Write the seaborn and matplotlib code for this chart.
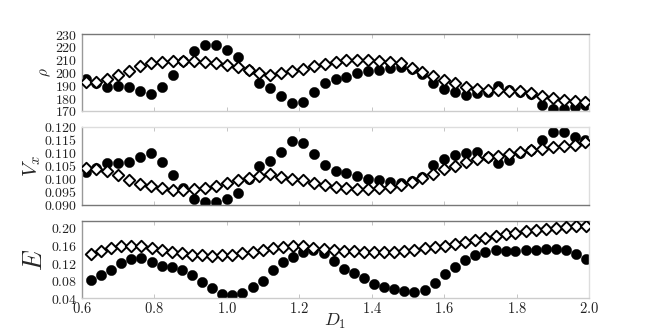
import matplotlib
matplotlib.use("Agg")
import matplotlib.pyplot as plt
import seaborn as sns
from matplotlib.ticker import FuncFormatter, FixedLocator

sns.set_style("white")
plt.rcParams["mathtext.fontset"] = "cm"
plt.rcParams["font.family"] = ["DejaVu Serif"]

# ---------------- data ----------------
D1_top = [0.61, 0.64, 0.67, 0.70, 0.73, 0.76, 0.79, 0.82, 0.85, 0.88,
          0.91, 0.94, 0.97, 1.00, 1.03, 1.06, 1.09, 1.12, 1.15, 1.18,
          1.21, 1.24, 1.27, 1.30, 1.33, 1.36, 1.39, 1.42, 1.45, 1.48,
          1.51, 1.54, 1.57, 1.60, 1.63, 1.66, 1.69, 1.72, 1.75, 1.78,
          1.81, 1.84, 1.87, 1.90, 1.93, 1.96, 1.99]

rho_circle = [195, 192, 189, 189.6, 188.7, 185.7, 183, 188.4, 198.1, 209,
              217, 221.4, 221.4, 217.5, 212, 202, 191.6, 188.3, 182, 176,
              177, 184.8, 192, 195, 196.4, 199.4, 201, 202.3, 203.3, 204,
              203, 199, 191.6, 187.3, 184.5, 182.8, 183.7, 185, 189.6, 186.4,
              185, 183, 174.7, 171.3, 171.3, 173.4, 175]
rho_diamond = [192.8, 192.8, 194.7, 198.1, 201.4, 205.1, 207.2, 208.4, 209.0, 209.0,
               209.0, 208.4, 207.2, 205.9, 204.0, 202.0, 199.9, 198.3, 199.4, 201.0,
               203.0, 205.0, 207.0, 208.2, 209.5, 209.7, 209.7, 209.2, 208.4, 207.2,
               203.7, 200.6, 196.9, 194.2, 191.6, 189.0, 187.0, 186.0, 186.2, 185.8,
               185.2, 183.8, 182.0, 180.5, 178.8, 177.8, 177.2]

vx_circle = [0.1025, 0.1040, 0.1060, 0.1060, 0.1064, 0.1085, 0.1098, 0.1065, 0.1015, 0.0962,
             0.0922, 0.0910, 0.0910, 0.0922, 0.0946, 0.1000, 0.1048, 0.1070, 0.1102, 0.1145,
             0.1139, 0.1094, 0.1051, 0.1031, 0.1021, 0.1009, 0.1000, 0.0995, 0.0989, 0.0982,
             0.0990, 0.1008, 0.1053, 0.1076, 0.1092, 0.1100, 0.1102, 0.1085, 0.1061, 0.1072,
             0.1100, 0.1112, 0.1149, 0.1182, 0.1182, 0.1160, 0.1148]
vx_diamond = [0.1043, 0.1039, 0.1029, 0.1013, 0.0996, 0.0979, 0.0972, 0.0963, 0.0958, 0.0957,
              0.0961, 0.0965, 0.0972, 0.0983, 0.0993, 0.1003, 0.1012, 0.1017, 0.1008, 0.0997,
              0.0993, 0.0984, 0.0975, 0.0967, 0.0962, 0.0960, 0.0961, 0.0963, 0.0968, 0.0976,
              0.0988, 0.1003, 0.1020, 0.1036, 0.1050, 0.1063, 0.1076, 0.1084, 0.1089, 0.1097,
              0.1104, 0.1110, 0.1116, 0.1121, 0.1126, 0.1131, 0.1143]

D1_bottom = [0.624, 0.652, 0.680, 0.708, 0.736, 0.764, 0.792, 0.820, 0.848, 0.875,
             0.903, 0.931, 0.959, 0.987, 1.015, 1.043, 1.071, 1.099, 1.127, 1.155,
             1.183, 1.211, 1.239, 1.267, 1.295, 1.323, 1.350, 1.378, 1.406, 1.434,
             1.462, 1.490, 1.518, 1.546, 1.574, 1.602, 1.630, 1.658, 1.686, 1.714,
             1.742, 1.770, 1.797, 1.825, 1.853, 1.881, 1.909, 1.937, 1.965, 1.993]

E_circle = [0.081, 0.092, 0.105, 0.119, 0.130, 0.132, 0.123, 0.114, 0.110, 0.105,
            0.092, 0.078, 0.063, 0.049, 0.047, 0.053, 0.066, 0.080, 0.105, 0.122,
            0.134, 0.145, 0.150, 0.142, 0.124, 0.107, 0.097, 0.085, 0.072, 0.065,
            0.060, 0.056, 0.054, 0.059, 0.075, 0.094, 0.111, 0.126, 0.138, 0.146,
            0.150, 0.148, 0.148, 0.150, 0.150, 0.151, 0.151, 0.149, 0.141, 0.130]
E_diamond = [0.140, 0.147, 0.153, 0.158, 0.159, 0.158, 0.154, 0.149, 0.145, 0.142,
             0.139, 0.138, 0.137, 0.138, 0.139, 0.143, 0.145, 0.150, 0.154, 0.156,
             0.159, 0.158, 0.154, 0.151, 0.150, 0.148, 0.147, 0.146, 0.146, 0.146,
             0.146, 0.148, 0.150, 0.153, 0.156, 0.159, 0.164, 0.168, 0.173, 0.177,
             0.182, 0.185, 0.188, 0.192, 0.195, 0.197, 0.199, 0.201, 0.203, 0.205]

x_ticks = [0.6, 0.8, 1.0, 1.2, 1.4, 1.6, 1.8, 2.0]
rho_ticks = [170, 180, 190, 200, 210, 220, 230]
vx_ticks = [0.090, 0.095, 0.100, 0.105, 0.110, 0.115, 0.120]
E_ticks = [0.04, 0.08, 0.12, 0.16, 0.20]

# ---------------- figure ----------------
W, H = 654, 332
fig = plt.figure(figsize=(W / 100, H / 100), dpi=100)

def frac(l, t, r, b):
    return [l / W, 1 - b / H, (r - l) / W, (b - t) / H]

ax1 = fig.add_axes(frac(82, 34, 589, 111))
ax2 = fig.add_axes(frac(82, 127, 589, 204.5))
ax3 = fig.add_axes(frac(82, 220.7, 589, 298.3))

panels = [
    (ax1, D1_top, rho_circle, rho_diamond, (170, 230), rho_ticks, lambda v, p: rf"${v:.0f}$",
     r"$\rho$", 11, -0.058, ("#777777", "#cccccc")),
    (ax2, D1_top, vx_circle, vx_diamond, (0.090, 0.120), vx_ticks, lambda v, p: rf"${v:.3f}$",
     r"$V_x$", 15, -0.076, ("#dddddd", "#777777")),
    (ax3, D1_bottom, E_circle, E_diamond, (0.04, 0.216), E_ticks, lambda v, p: rf"${v:.2f}$",
     r"$E$", 19, -0.070, ("#777777", "#cccccc")),
]

for ax, xs, yc, yd, ylim, yt, fmt, lab, lsize, lx, (topc, botc) in panels:
    sns.scatterplot(x=xs, y=yc, ax=ax, marker="o", color="black", s=55,
                    edgecolor="black", linewidth=0.3, zorder=2, legend=False)
    sns.scatterplot(x=xs, y=yd, ax=ax, marker="D", color="white", s=34,
                    edgecolor="black", linewidth=1.4, zorder=3, legend=False)
    ax.set_xlim(0.6, 2.0)
    ax.set_ylim(*ylim)
    ax.yaxis.set_major_locator(FixedLocator(yt))
    ax.yaxis.set_major_formatter(FuncFormatter(fmt))
    ax.xaxis.set_major_locator(FixedLocator(x_ticks))
    ax.set_ylabel(lab, fontsize=lsize, labelpad=0)
    ax.yaxis.set_label_coords(lx, 0.5)
    ax.tick_params(axis="y", which="major", direction="out", length=2.5, width=0.6,
                   color="#aaaaaa", labelsize=10, labelcolor="#222222", pad=1)
    ax.tick_params(axis="x", which="major", direction="in", length=3, width=0.6,
                   color="#bbbbbb", top=True, bottom=True, labelsize=10.5,
                   labelcolor="#222222", pad=2)
    for side, c in (("top", topc), ("bottom", botc), ("left", "#999999"), ("right", "#dddddd")):
        ax.spines[side].set_visible(True)
        ax.spines[side].set_color(c)
        ax.spines[side].set_linewidth(1.0)

for ax in (ax1, ax2):
    ax.tick_params(axis="x", labelbottom=False)

ax3.xaxis.set_major_formatter(FuncFormatter(lambda v, p: rf"${v:.1f}$"))
ax3.set_xlabel(r"$D_1$", fontsize=13, labelpad=-3)

fig.savefig("out.png", dpi=100)
